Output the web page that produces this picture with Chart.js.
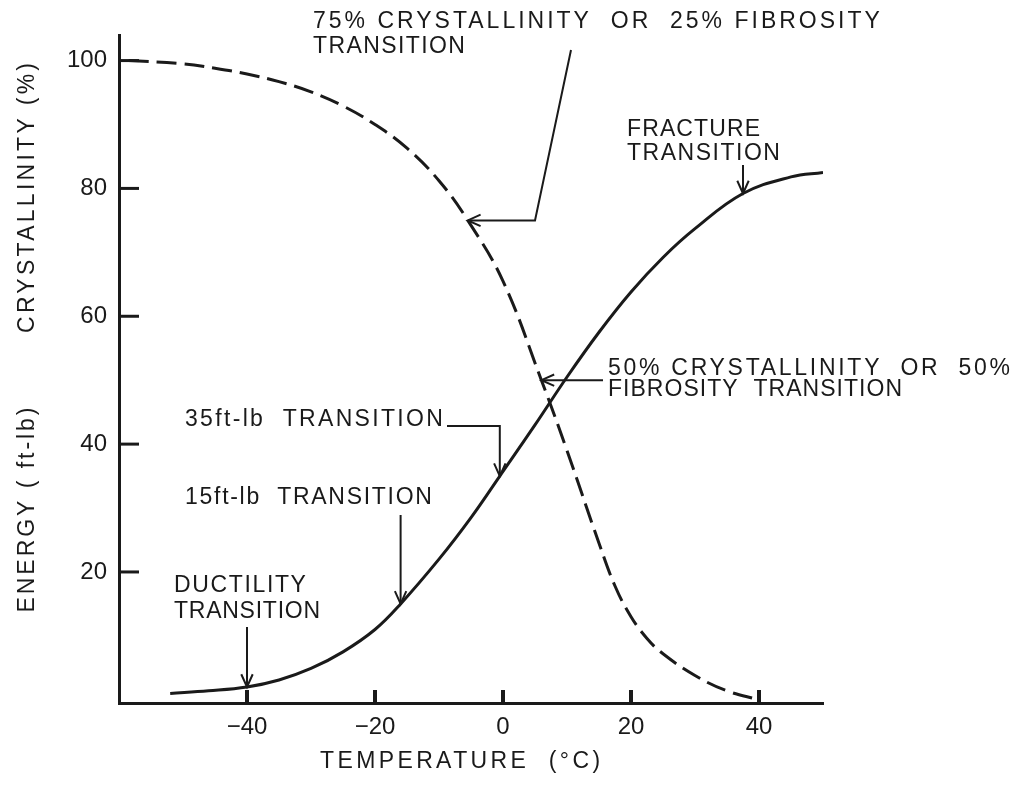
<!DOCTYPE html>
<html>
<head>
<meta charset="utf-8">
<title>Transition temperature criteria</title>
<script src="https://cdn.jsdelivr.net/npm/chart.js@4.4.1/dist/chart.umd.min.js"></script>
<style>
  html, body { margin: 0; padding: 0; background: #ffffff; }
  #wrap { width: 1017px; height: 787px; }
</style>
</head>
<body>
<div id="wrap"><canvas id="c" width="1017" height="787"></canvas></div>
<script>
// Impact energy (ft-lb) against test temperature (°C)
const tempEnergy = [-52, -46, -40, -35, -30, -25, -20, -16, -10, -5, -0.5, 5, 10, 15, 20, 25, 30, 37.5, 45, 50];
const energy     = [1.0, 1.4, 2.0, 3.1, 4.9, 7.5, 11, 15, 22, 28.5, 35, 43, 50.5, 57.5, 63.8, 69.2, 73.7, 79.2, 81.8, 82.5];

// Fracture-surface crystallinity (%) against test temperature (°C)
const tempCryst     = [-58.5, -50, -45, -40, -35, -30, -25, -20, -15, -10, -5.5, 0, 6, 10, 15, 17.5, 20, 22.5, 25, 30, 35, 40];
const crystallinity = [100, 99.5, 98.8, 97.9, 96.7, 95.1, 92.9, 90, 86.3, 81.2, 75, 65.5, 50, 39, 24.5, 17.8, 13, 9.6, 7.2, 3.8, 1.4, 0];

// Tick labels
const xTickValues = [-40, -20, 0, 20, 40];
const yTickValues = [20, 40, 60, 80, 100];

const INK = '#1a1a1a';
const FONT = '"Liberation Sans", Arial, sans-serif';

function pairs(xs, ys) { return xs.map((x, i) => ({ x: x, y: ys[i] })); }

// Text blocks: [text, left px, centre-line px, target width px]
const textLines = [
  ['75% CRYSTALLINITY  OR  25% FIBROSITY', 313, 22, 567],
  ['TRANSITION', 313, 47, 152],
  ['FRACTURE', 627, 130, 133],
  ['TRANSITION', 627, 154, 153],
  ['50% CRYSTALLINITY  OR  50%', 608, 369, 402],
  ['FIBROSITY  TRANSITION', 608, 390, 294],
  ['35ft-lb  TRANSITION', 185, 420, 258],
  ['15ft-lb  TRANSITION', 185, 498, 247],
  ['DUCTILITY', 174, 586, 132],
  ['TRANSITION', 174, 612, 146]
];

// Leader arrows: the tip sits on a curve point; null in a path vertex takes the tip's coordinate
const arrows = [
  { set: 1, at: -5.5, path: [[571, 50], [535, null]] },
  { set: 0, at: 37.5, path: [[null, 165]] },
  { set: 1, at: 6,    path: [[603, null]] },
  { set: 0, at: -0.5, path: [[447, 426], [null, 426]] },
  { set: 0, at: -16,  path: [[null, 515]] },
  { set: 0, at: -40,  path: [[null, 627]] }
];

function fitText(ctx, text, left, cy, width, rotate) {
  ctx.save();
  ctx.letterSpacing = '0px';
  ctx.font = '23px ' + FONT;
  const natural = ctx.measureText(text).width;
  const sp = (width - natural) / Math.max(1, text.length - 1);
  ctx.letterSpacing = sp.toFixed(2) + 'px';
  ctx.fillStyle = INK;
  ctx.textBaseline = 'middle';
  ctx.textAlign = 'left';
  if (rotate) {
    // left/cy here are the centre of the rotated run
    ctx.translate(left, cy);
    ctx.rotate(-Math.PI / 2);
    ctx.fillText(text, -width / 2, 0);
  } else {
    ctx.fillText(text, left, cy);
  }
  ctx.restore();
}

const decorations = {
  id: 'decorations',
  afterDraw(chart) {
    const ctx = chart.ctx;
    const xs = chart.scales.x, ys = chart.scales.y;
    const area = chart.chartArea;

    // inward tick marks
    ctx.save();
    ctx.strokeStyle = INK;
    ctx.lineCap = 'butt';
    ctx.lineWidth = 3;
    yTickValues.forEach(v => {
      const py = ys.getPixelForValue(v);
      ctx.beginPath(); ctx.moveTo(area.left, py); ctx.lineTo(area.left + 20, py); ctx.stroke();
    });
    ctx.lineWidth = 4;
    xTickValues.forEach(v => {
      const px = xs.getPixelForValue(v);
      ctx.beginPath(); ctx.moveTo(px, area.bottom); ctx.lineTo(px, area.bottom - 13); ctx.stroke();
    });
    ctx.restore();

    // leader lines and arrowheads
    ctx.save();
    ctx.strokeStyle = INK;
    ctx.lineWidth = 2;
    ctx.lineJoin = 'miter';
    arrows.forEach(a => {
      const d = chart.data.datasets[a.set].data.find(p => p.x === a.at);
      const tx = xs.getPixelForValue(d.x), ty = ys.getPixelForValue(d.y);
      const pts = a.path.map(p => [p[0] === null ? tx : p[0], p[1] === null ? ty : p[1]]);
      pts.push([tx, ty]);
      ctx.beginPath();
      ctx.moveTo(pts[0][0], pts[0][1]);
      for (let i = 1; i < pts.length; i++) ctx.lineTo(pts[i][0], pts[i][1]);
      ctx.stroke();
      const prev = pts[pts.length - 2];
      const ang = Math.atan2(ty - prev[1], tx - prev[0]);
      const L = 14, w = 0.42;
      ctx.beginPath();
      ctx.moveTo(tx - L * Math.cos(ang - w), ty - L * Math.sin(ang - w));
      ctx.lineTo(tx, ty);
      ctx.lineTo(tx - L * Math.cos(ang + w), ty - L * Math.sin(ang + w));
      ctx.stroke();
    });
    ctx.restore();

    // annotation text
    textLines.forEach(t => fitText(ctx, t[0], t[1], t[2], t[3], false));

    // axis titles
    fitText(ctx, 'TEMPERATURE  (°C)', 320, 762, 280, false);
    fitText(ctx, 'ENERGY ( ft-lb)', 28, 510, 205, true);
    fitText(ctx, 'CRYSTALLINITY (%)', 28, 198, 270, true);
  }
};

new Chart(document.getElementById('c'), {
  type: 'line',
  data: {
    datasets: [
      {
        label: 'Energy (ft-lb)',
        data: pairs(tempEnergy, energy),
        borderColor: INK,
        borderWidth: 3,
        pointRadius: 0,
        fill: false,
        tension: 0.4
      },
      {
        label: 'Crystallinity (%)',
        data: pairs(tempCryst, crystallinity),
        borderColor: INK,
        borderWidth: 3,
        borderDash: [20, 8],
        pointRadius: 0,
        fill: false,
        tension: 0.4
      }
    ]
  },
  options: {
    responsive: false,
    animation: false,
    devicePixelRatio: 1,
    layout: { padding: { left: 0, right: 194, top: 35, bottom: 0 } },
    plugins: { legend: { display: false }, tooltip: { enabled: false } },
    scales: {
      x: {
        type: 'linear',
        min: -60,
        max: 50,
        afterBuildTicks: s => { s.ticks = xTickValues.map(v => ({ value: v })); },
        afterFit: s => { s.height = 84; },
        grid: { display: false, drawTicks: false },
        border: { display: true, width: 3, color: INK },
        ticks: {
          padding: 10,
          color: INK,
          font: { family: FONT, size: 24 },
          callback: v => (v < 0 ? '\u2212' + Math.abs(v) : String(v))
        }
      },
      y: {
        type: 'linear',
        min: -0.5,
        max: 104,
        afterBuildTicks: s => { s.ticks = yTickValues.map(v => ({ value: v })); },
        afterFit: s => { s.width = 119; },
        grid: { display: false, drawTicks: false },
        border: { display: true, width: 3, color: INK },
        ticks: {
          padding: 12,
          color: INK,
          font: { family: FONT, size: 24 },
          callback: v => String(v)
        }
      }
    }
  },
  plugins: [decorations]
});
</script>
</body>
</html>
